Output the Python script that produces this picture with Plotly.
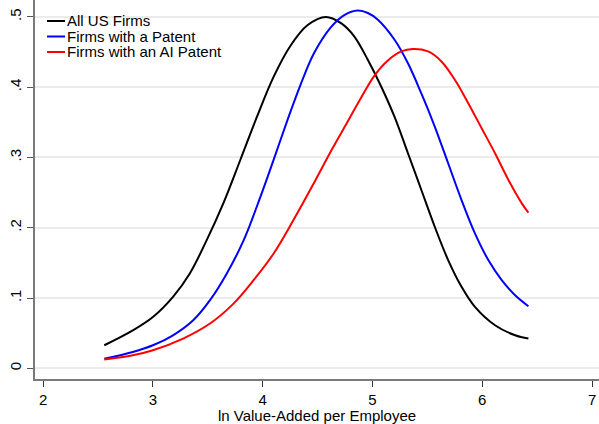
import plotly.graph_objects as go

# ---- data ----
series_names = ["All US Firms", "Firms with a Patent", "Firms with an AI Patent"]
series_colors = ["#000000", "#0000ff", "#ff0000"]

x_all = [2.557, 2.817, 3.0, 3.183, 3.336, 3.489, 3.642, 3.795, 3.948, 4.10, 4.253, 4.407,
         4.576, 4.713, 4.835, 4.957, 5.079, 5.20, 5.323, 5.445, 5.567, 5.689, 5.811,
         5.933, 6.116, 6.299, 6.42]
y_all = [0.0328, 0.054, 0.073, 0.1017, 0.135, 0.182, 0.235, 0.296, 0.358, 0.415, 0.459, 0.488,
         0.4998, 0.491, 0.472, 0.439, 0.401, 0.358, 0.306, 0.2537, 0.2014, 0.154, 0.116,
         0.0874, 0.0613, 0.047, 0.0423]

x_pat = [2.557, 2.817, 3.0, 3.183, 3.367, 3.52, 3.673, 3.826, 3.979, 4.10, 4.223, 4.346,
         4.468, 4.62, 4.743, 4.866, 4.958, 5.049, 5.201, 5.323, 5.445, 5.567, 5.689, 5.811,
         5.933, 6.055, 6.177, 6.299, 6.42]
y_pat = [0.0138, 0.0233, 0.0328, 0.047, 0.0684, 0.097, 0.135, 0.182, 0.244, 0.297, 0.352, 0.404,
         0.4485, 0.485, 0.5025, 0.509, 0.5055, 0.496, 0.4675, 0.434, 0.391, 0.344, 0.2917, 0.2394,
         0.192, 0.154, 0.1254, 0.104, 0.0884]

x_ai = [2.557, 2.817, 3.0, 3.275, 3.52, 3.734, 3.917, 4.10, 4.284, 4.468, 4.636, 4.774,
        4.896, 5.018, 5.14, 5.262, 5.369, 5.506, 5.628, 5.75, 5.872, 5.994, 6.116,
        6.238, 6.36, 6.42]
y_ai = [0.0124, 0.0185, 0.0257, 0.0423, 0.0637, 0.092, 0.1254, 0.1634, 0.212, 0.264, 0.313, 0.351,
        0.385, 0.4165, 0.438, 0.4508, 0.4542, 0.4508, 0.4366, 0.4105, 0.3772, 0.3416, 0.306,
        0.268, 0.2347, 0.2214]

x_ticks = [2, 3, 4, 5, 6, 7]
y_ticks = [0, 0.1, 0.2, 0.3, 0.4, 0.5]
y_tick_labels = ["0", ".1", ".2", ".3", ".4", ".5"]
x_title = "ln Value-Added per Employee"

FONT = "Liberation Sans, Arial, Helvetica, sans-serif"

fig = go.Figure()
for xs, ys, name, col in zip([x_all, x_pat, x_ai], [y_all, y_pat, y_ai],
                             series_names, series_colors):
    fig.add_trace(go.Scatter(x=xs, y=ys, mode="lines", name=name,
                             line=dict(color=col, width=2, shape="spline", smoothing=1.0),
                             showlegend=False, hoverinfo="skip"))

# manual legend (Stata style)
leg_y = [0.9446, 0.9037, 0.8628]
for name, col, yy in zip(series_names, series_colors, leg_y):
    fig.add_shape(type="line", xref="paper", yref="paper",
                  x0=0.0213, x1=0.0532, y0=yy, y1=yy,
                  line=dict(color=col, width=2))
    fig.add_annotation(xref="paper", yref="paper", x=0.0532, y=yy, text=name,
                       showarrow=False, xanchor="left", yanchor="middle",
                       font=dict(family=FONT, size=15, color="#000000"))

fig.update_layout(
    width=599, height=424,
    margin=dict(l=35, r=0, t=0, b=45),
    paper_bgcolor="white", plot_bgcolor="white",
    font=dict(family=FONT, size=15, color="#000000"),
    xaxis=dict(range=[1.926, 7.063], tickvals=x_ticks,
               ticktext=[str(v) for v in x_ticks],
               showgrid=False, zeroline=False, automargin=False,
               showline=True, linecolor="#7a7a7a", linewidth=1.5,
               ticks="outside", ticklen=6, tickcolor="#333333", tickwidth=1,
               title=dict(text=x_title, font=dict(size=15), standoff=4)),
    yaxis=dict(range=[-0.0152, 0.524], tickvals=y_ticks, ticktext=y_tick_labels,
               tickangle=-90, automargin=False,
               showgrid=True, gridcolor="#ebebeb", gridwidth=1.5, zeroline=False,
               showline=True, linecolor="#7a7a7a", linewidth=1.5,
               ticks="outside", ticklen=6, tickcolor="#555555", tickwidth=1),
)

fig.write_html(
    "out.html",
    config={"displayModeBar": False},
    post_script="document.body.style.margin='0';document.body.style.overflow='hidden';",
)
